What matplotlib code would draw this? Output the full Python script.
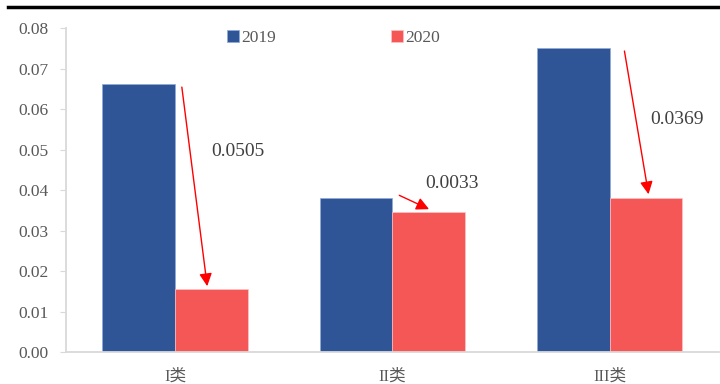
import matplotlib.pyplot as plt
import numpy as np
from matplotlib.lines import Line2D

categories = ["I类", "II类", "III类"]
series_2019 = [0.0661, 0.0380, 0.0750]
series_2020 = [0.0156, 0.0347, 0.0381]
diff_labels = ["0.0505", "0.0033", "0.0369"]

plt.rcParams['font.family'] = ['Liberation Serif', 'Noto Sans CJK SC', 'DejaVu Sans']

fig = plt.figure(figsize=(7.2, 3.84), dpi=100)
ax = fig.add_axes([0.092, 0.083, 0.906, 0.844])

x = np.arange(len(categories))
w = 0.334
ax.bar(x - w / 2, series_2019, w, color='#2F5597', edgecolor='#8EA9DB', linewidth=0.5, label='2019')
ax.bar(x + w / 2, series_2020, w, color='#F55656', edgecolor='#FBC4C4', linewidth=0.5, label='2020')

# arrows from 2019 top to 2020 top
starts = [(0.03, 0.0661), (1.02, 0.0390), (2.065, 0.0750)]
ends = [(0.15, 0.0156), (1.18, 0.0350), (2.18, 0.0383)]
text_pos = [(0.29, 0.0494), (1.275, 0.0417), (2.31, 0.0573)]
for s, e, t, lab in zip(starts, ends, text_pos, diff_labels):
    ax.annotate('', xy=e, xytext=s,
                arrowprops=dict(arrowstyle='-|>', color='red', lw=1, mutation_scale=19))
    ax.text(t[0], t[1], lab, ha='center', va='center', fontsize=14, color='#404040')

ax.set_xlim(-0.5, 2.5)
ax.set_ylim(0, 0.08)
ax.set_yticks(np.arange(0, 0.081, 0.01))
ax.set_yticklabels([f"{v:.2f}" for v in np.arange(0, 0.081, 0.01)])
ax.set_xticks(x)
ax.set_xticklabels(categories)
ax.tick_params(axis='x', length=0, pad=12, labelsize=12, labelcolor='#595959')
ax.tick_params(axis='y', length=4, color='#D9D9D9', labelsize=12.5, labelcolor='#595959', pad=9)

for side in ['top', 'right']:
    ax.spines[side].set_visible(False)
for side in ['left', 'bottom']:
    ax.spines[side].set_color('#D9D9D9')
    ax.spines[side].set_linewidth(1.3)

ax.legend(loc='center', bbox_to_anchor=(0.41, 0.968), ncol=2, frameon=False,
          fontsize=12.5, columnspacing=6.6, handlelength=0.7, handleheight=0.7,
          handletextpad=0.15, labelcolor='#595959')

fig.add_artist(Line2D([0.011, 1.0], [0.983, 0.983], color='black', lw=2.5, transform=fig.transFigure))

fig.savefig('out.png', dpi=100)
